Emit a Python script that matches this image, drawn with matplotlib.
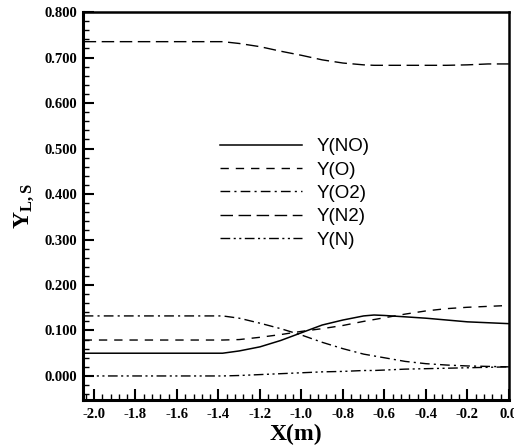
import matplotlib.pyplot as plt
from matplotlib.ticker import MultipleLocator, FormatStrFormatter

plt.rcParams['mathtext.fontset'] = 'custom'
plt.rcParams['mathtext.rm'] = 'Liberation Serif'
plt.rcParams['mathtext.bf'] = 'Liberation Serif:bold'

# species mass fractions along x
x = [-2.05, -1.6, -1.38, -1.3, -1.2, -1.1, -1.0, -0.9, -0.8, -0.7, -0.65,
     -0.6, -0.5, -0.4, -0.3, -0.2, -0.1, 0.0]
y_no = [0.050, 0.050, 0.050, 0.055, 0.064, 0.078, 0.095, 0.112, 0.123, 0.132, 0.134,
        0.133, 0.130, 0.127, 0.123, 0.119, 0.117, 0.115]
y_o = [0.079, 0.079, 0.079, 0.080, 0.085, 0.091, 0.098, 0.104, 0.111, 0.120, 0.124,
       0.128, 0.136, 0.143, 0.148, 0.151, 0.153, 0.155]
y_o2 = [0.132, 0.132, 0.132, 0.127, 0.116, 0.104, 0.090, 0.074, 0.060, 0.048, 0.044,
        0.040, 0.032, 0.027, 0.024, 0.022, 0.021, 0.020]
y_n2 = [0.735, 0.735, 0.735, 0.731, 0.724, 0.714, 0.705, 0.695, 0.688, 0.684, 0.683,
        0.683, 0.683, 0.683, 0.683, 0.684, 0.686, 0.686]
y_n = [0.000, 0.000, 0.000, 0.001, 0.003, 0.005, 0.007, 0.009, 0.010, 0.012, 0.012,
       0.013, 0.015, 0.016, 0.017, 0.018, 0.019, 0.020]

fig = plt.figure(figsize=(5.14, 4.48), dpi=100)
ax = fig.add_axes([0.1615, 0.107, 0.8285, 0.866])

ax.plot(x, y_no, color='black', lw=1.1, ls='-', label='Y(NO)')
ax.plot(x, y_o, color='black', lw=1.0, ls=(0, (6, 5)), label='Y(O)')
ax.plot(x, y_o2, color='black', lw=1.0, ls=(0, (7, 3, 1.5, 3)), label='Y(O2)')
ax.plot(x, y_n2, color='black', lw=1.0, ls=(0, (9, 4)), label='Y(N2)')
ax.plot(x, y_n, color='black', lw=1.0, ls=(0, (7, 2.5, 1.5, 2.5, 1.5, 2.5)), label='Y(N)')

ax.set_xlim(-2.053, 0.0)
ax.set_ylim(-0.053, 0.8)

ax.xaxis.set_major_locator(MultipleLocator(0.2))
ax.xaxis.set_minor_locator(MultipleLocator(0.04))
ax.yaxis.set_major_locator(MultipleLocator(0.1))
ax.yaxis.set_minor_locator(MultipleLocator(0.02))
ax.xaxis.set_major_formatter(FormatStrFormatter('%.1f'))
ax.yaxis.set_major_formatter(FormatStrFormatter('%.3f'))

ax.tick_params(which='both', direction='in', top=False, right=False, width=1.5)
ax.tick_params(which='major', length=8)
ax.tick_params(which='minor', length=4, width=1.0)
for lab in ax.get_xticklabels() + ax.get_yticklabels():
    lab.set_fontfamily('Liberation Serif')
    lab.set_fontweight('bold')
    lab.set_fontsize(10.5)
ax.tick_params(axis='x', pad=6)
ax.tick_params(axis='y', pad=4)

for side in ['left', 'bottom']:
    ax.spines[side].set_linewidth(2.2)
for side in ['top', 'right']:
    ax.spines[side].set_linewidth(1.8)

ax.set_xlabel('X(m)', fontfamily='Liberation Serif', fontweight='bold', fontsize=17, labelpad=2)
ax.set_ylabel(r'$\mathbf{Y_{L,S}}$', fontsize=17, labelpad=6)

ax.legend(loc='upper left', bbox_to_anchor=(0.3216, 0.675), frameon=False,
          prop={'family': 'Liberation Sans', 'size': 13.5}, handlelength=4.4,
          handletextpad=0.75, labelspacing=0.33, borderpad=0, borderaxespad=0)

fig.savefig('out.png', dpi=100)
